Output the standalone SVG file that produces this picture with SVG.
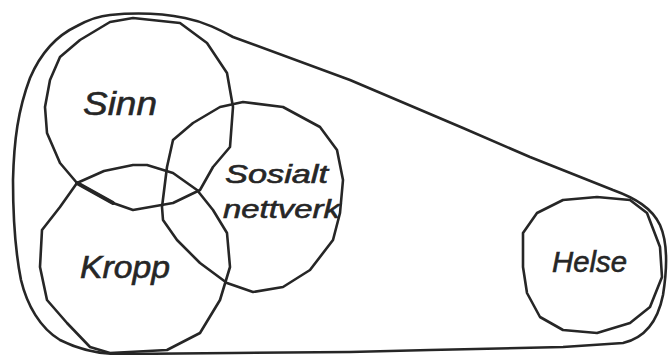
<svg xmlns="http://www.w3.org/2000/svg" width="668" height="355" viewBox="0 0 668 355">
<style>
.ln{fill:none;stroke:#262626;stroke-width:2.6;stroke-linejoin:round;stroke-linecap:round}
.tx{font-family:"Liberation Sans","DejaVu Sans",sans-serif;font-style:italic;fill:#262626;stroke:#262626;stroke-width:0.6}
</style>
<rect width="668" height="355" fill="#ffffff"/>
<g id="container">
<path class="ln" d="M110,15 C140,12 165,14 185,18 C205,22 220,30 233,37 L350,80 L463,128 L530,157 L613,190 C635,198 652,208 660,225 C668,243 667,270 663,295 C658,320 645,338 623,343 L563,347 L430,350 L350,352 L233,353 L120,354 C100,354 80,350 60,340 C40,328 27,305 21,280 C15,250 13,215 13,180 C14,140 18,110 30,78 C42,50 60,34 77,26 C88,20 98,16 110,15 Z"/>
</g>
<g id="sinn">
<path class="ln" d="M60,57 L80,40 L110,22 L133,18 L180,23 L207,43 L227,73 L233,107 L230,147 L213,167 L200,190 L173,203 L133,210 L113,203 L77,183 L60,163 L47,133 L45,107 L50,80 Z"/>
<text class="tx" x="83" y="115" font-size="34" textLength="74" lengthAdjust="spacingAndGlyphs">Sinn</text>
</g>
<g id="kropp">
<path class="ln" d="M77,183 L104,171 L133,165 L147,165 L173,173 L197,190 L213,210 L227,233 L230,267 L220,300 L200,333 L167,350 L110,353 L90,347 L67,323 L47,300 L40,267 L42,230 L60,207 Z"/>
<path d="M77,183 L113,203" stroke="#262626" stroke-width="4" fill="none" stroke-linecap="round"/>
<text class="tx" x="80" y="278" font-size="31" textLength="90" lengthAdjust="spacingAndGlyphs">Kropp</text>
</g>
<g id="sosialt-nettverk">
<path class="ln" d="M162,207 L167,167 L173,140 L193,123 L220,107 L243,102 L283,107 L320,127 L337,150 L343,180 L340,213 L333,240 L310,270 L283,287 L253,292 L227,283 L200,263 L177,240 L163,220 Z"/>
<text class="tx" x="225" y="183" font-size="26" textLength="103" lengthAdjust="spacingAndGlyphs">Sosialt</text>
<text class="tx" x="223" y="218" font-size="26" textLength="117" lengthAdjust="spacingAndGlyphs">nettverk</text>
</g>
<g id="helse">
<path class="ln" d="M523,233 L537,213 L563,200 L597,197 L630,200 L647,213 L660,247 L662,277 L650,307 L630,323 L597,333 L563,330 L540,317 L527,293 L523,267 Z"/>
<text class="tx" x="552" y="272" font-size="29" textLength="75" lengthAdjust="spacingAndGlyphs">Helse</text>
</g>
</svg>
